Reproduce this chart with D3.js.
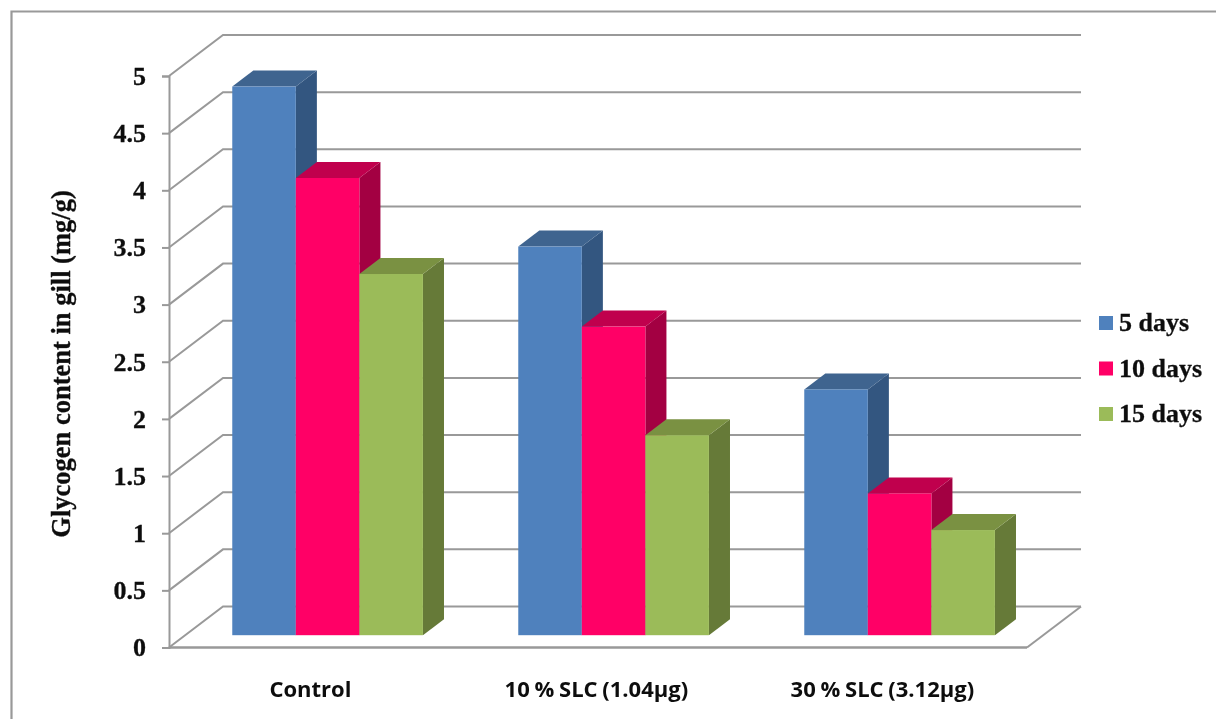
<!DOCTYPE html>
<html><head><meta charset="utf-8">
<script src="https://cdn.jsdelivr.net/npm/d3@7"></script>
<style>
html,body{margin:0;padding:0;background:#fff;overflow:hidden}
svg{display:block}
.serif{font-family:"Liberation Serif",serif;font-weight:700;fill:#111;stroke:#111;stroke-width:0.3px}
.sans{font-family:"Open Sans",sans-serif;font-weight:700;fill:#111}
</style></head><body>
<svg id="c" width="1216" height="719"></svg>
<script>
const categories = ["Control", "10 % SLC (1.04µg)", "30 % SLC (3.12µg)"];
const seriesNames = ["5 days", "10 days", "15 days"];
const days5 = [4.8, 3.4, 2.15];
const days10 = [4.0, 2.7, 1.24];
const days15 = [3.16, 1.75, 0.92];
const yTicks = [0, 0.5, 1, 1.5, 2, 2.5, 3, 3.5, 4, 4.5, 5];
const faceColors = ["#4F81BD", "#FF0066", "#9BBB59"];
const topColors = ["#3F648F", "#C0004D", "#7A9142"];
const sideColors = ["#335680", "#A30042", "#667A38"];
const allSeries = [days5, days10, days15];

const svg = d3.select("#c");
const defs = svg.append("defs");
defs.append("filter").attr("id","soft").append("feGaussianBlur").attr("stdDeviation",0.5);

const grid = "#999999";
const X0 = 169, X1 = 1027, Y0 = 647.5, Y5 = 76;
const backDx = 54, backDy = -41;
const barShift = 0.3;        // bar front plane depth as a share of the floor depth
const barDepth = 0.39;       // bar depth as a share of the floor depth

const y = d3.scaleLinear().domain([0,5]).range([Y0,Y5]);
const x = d3.scaleBand().domain(categories).range([X0-0.6,X1-0.6]).paddingInner(1/3).paddingOuter(1/6);
const xs = d3.scaleBand().domain(d3.range(seriesNames.length)).range([0,x.bandwidth()]);

// outer frame
svg.append("path").attr("d","M11.5,719V11.5H1216").attr("fill","none").attr("stroke","#999").attr("stroke-width",2.2);

// walls
const wall = svg.append("g").attr("fill","none").attr("stroke",grid).attr("stroke-width",2);
yTicks.forEach(t=>{
  wall.append("path").attr("d",d3.line()([[X0,y(t)],[X0+backDx,y(t)+backDy],[1081,y(t)+backDy]]));
});
wall.append("path").attr("d",d3.line()([[X1,Y0],[1081,Y0+backDy]]));

// axes
const yAxis = d3.axisLeft(y).tickValues(yTicks).tickFormat(d3.format("~g")).tickSize(7).tickPadding(16);
const gy = svg.append("g").attr("transform",`translate(${X0},0)`).call(yAxis);
gy.selectAll("path,line").attr("stroke",grid).attr("stroke-width",2);
gy.selectAll("text").attr("class","serif").attr("font-size",26).attr("fill","#111").attr("filter","url(#soft)");
svg.append("path").attr("d",d3.line()([[X0,Y0],[X1,Y0]])).attr("stroke",grid).attr("stroke-width",2.4);

// bars
const vBase = y(0)+backDy*barShift, hBase = backDx*barShift;
const dx = backDx*barDepth, dy = backDy*barDepth;
const h = v => y(0)-y(v);
const gb = svg.append("g");
categories.forEach((c,ci)=>{
  allSeries.forEach((vals,si)=>{
    const l = x(c)+xs(si)+hBase, w = xs.bandwidth(), t = vBase-h(vals[ci]), b = vBase;
    gb.append("path").attr("fill",sideColors[si]).attr("d",d3.line()([[l+w,t],[l+w+dx,t+dy],[l+w+dx,b+dy],[l+w,b]])+"Z");
    gb.append("path").attr("fill",topColors[si]).attr("d",d3.line()([[l,t],[l+dx,t+dy],[l+w+dx,t+dy],[l+w,t]])+"Z");
    gb.append("rect").attr("x",l).attr("y",t).attr("width",w).attr("height",b-t).attr("fill",faceColors[si]);
  });
});

// category labels
svg.append("g").selectAll("text").data(categories).join("text")
  .attr("class","sans").attr("x",c=>x(c)+x.bandwidth()/2-1).attr("y",697)
  .attr("text-anchor","middle").attr("font-size",22).attr("word-spacing","-1px").attr("filter","url(#soft)").text(c=>c);

// y title
svg.append("text").attr("class","serif").attr("transform","translate(70,364) rotate(-90)")
  .attr("text-anchor","middle").attr("font-size",26.5).attr("filter","url(#soft)").text("Glycogen content in gill (mg/g)");

// legend
const ly = d3.scalePoint().domain(seriesNames).range([323,414]);
const lg = svg.append("g").selectAll("g").data(seriesNames).join("g").attr("transform",d=>`translate(1099,${ly(d)})`);
lg.append("rect").attr("y",-7).attr("width",14).attr("height",14).attr("fill",(d,i)=>faceColors[i]);
lg.append("text").attr("class","serif").attr("x",20).attr("y",8).attr("font-size",26).attr("filter","url(#soft)").text(d=>d);
</script></body></html>
